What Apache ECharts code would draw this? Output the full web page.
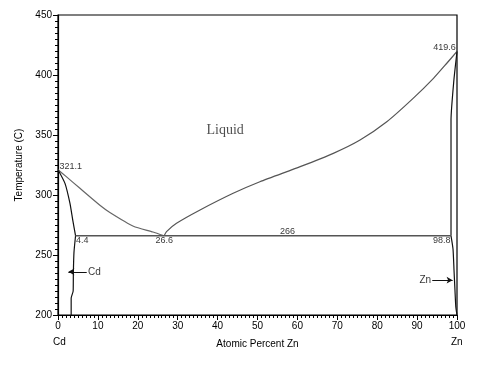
<!DOCTYPE html>
<html><head><meta charset="utf-8">
<script src="https://cdn.jsdelivr.net/npm/echarts@6/dist/echarts.min.js"></script>
<style>html,body{margin:0;padding:0;background:#fff}#c{width:478px;height:367px}</style>
</head><body><div id="c"></div>
<script>
// Liquidus (Cd side): [at% Zn, T]
var liquidusCd = [[0,321.1],[2,315.5],[5.5,305.6],[10.5,291.5],[13,285.5],[18.9,274],[23.8,269.2],[26.6,266]];
// Liquidus (Zn side)
var liquidusZn = [[26.6,266],[27.2,269.5],[29.7,276.4],[35.6,287.5],[43.9,301.4],[50.6,311],[60.7,323.6],[69,334.7],[75.7,345.8],[82.4,361],[89,380.5],[94.1,397.2],[97.5,410],[100,419.6]];
// Solidus + solvus (Cd side)
var solidusCd = [[0,321.1],[1.75,309.7],[3,293],[3.7,279],[4.4,266]];
var solvusCd = [[4.4,266],[4.0,252],[3.85,235],[3.8,220],[3.3,214],[3.3,200]];
// Solidus + solvus (Zn side)
var solidusZn = [[100,419.6],[99.2,395],[98.5,362.5],[98.5,320],[98.5,266]];
var solvusZn = [[98.5,266],[99.0,255],[99.25,237.5],[99.5,220],[99.7,207],[100,200]];
// Eutectic line
var eutectic = [[4.4,266],[98.5,266]];
// Point labels: [x, T, text, align]
var valueLabels = [[0.4,323.5,'321.1','left'],[4.5,262,'4.4','left'],[26.6,262,'26.6','center'],[57.5,269.5,'266','center'],[99.7,422.5,'419.6','right'],[98.4,262,'98.8','right']];
// Phase arrows: [textX, T, tipX, text]
var phaseArrows = [[7.5,236,2.6,'Cd'],[93.5,229,98.9,'Zn']];
var xTicks = [0,10,20,30,40,50,60,70,80,90,100];
var yTicks = [200,250,300,350,400,450];

var chart = echarts.init(document.getElementById('c'));
var font = 'Liberation Sans, DejaVu Sans, sans-serif';
function lineSeries(data, color, w){
  return {type:'line', data:data, showSymbol:false, symbol:'none', smooth:0.2, lineStyle:{color:color,width:w||1.2}, silent:true, z:3};
}
var series = [
  lineSeries(liquidusCd,'#666'),
  lineSeries(liquidusZn,'#555'),
  lineSeries(solidusCd,'#111'),
  lineSeries(solvusCd,'#111'),
  lineSeries(solidusZn,'#111'),
  lineSeries(solvusZn,'#111'),
  {type:'line', data:eutectic, showSymbol:false, symbol:'none', lineStyle:{color:'#555',width:1.5}, z:3},
  {type:'scatter', symbolSize:0, z:5, data:valueLabels.map(function(d){
      return {value:[d[0],d[1]], label:{show:true, position:'inside', formatter:d[2], align:d[3], verticalAlign:'middle', fontSize:9, fontFamily:font, color:'#000'}};
  })},
  {type:'scatter', symbolSize:0, z:5, data:[{value:[41.9,354], label:{show:true, position:'inside', formatter:'Liquid', fontSize:14, fontFamily:'Liberation Serif, DejaVu Serif, serif', color:'#222'}}]}
];
phaseArrows.forEach(function(a){
  var left = a[2] < a[0];
  series.push({type:'line', data:[], markLine:{silent:true, symbol:['none','arrow'], symbolSize:[5,6], lineStyle:{color:'#111', width:1, type:'solid'}, label:{show:false},
    data:[[{coord:[left ? a[0]-0.3 : a[0]+0.3, a[1]]},{coord:[a[2],a[1]]}]]}});
  series.push({type:'scatter', symbolSize:0, z:5, data:[{value:[a[0],a[1]], label:{show:true, position:'inside', formatter:a[3], align:left?'left':'right', verticalAlign:'middle', fontSize:10, fontFamily:font, color:'#000'}}]});
});

chart.setOption({
  animation:false,
  grid:{left:58, right:21, top:15, bottom:52, show:true, borderColor:'#000', borderWidth:1.2},
  xAxis:{type:'value', min:0, max:100, interval:10,
    name:'Atomic Percent Zn', nameLocation:'middle', nameGap:24, nameTextStyle:{fontSize:10, fontFamily:font, color:'#000'},
    axisLine:{onZero:false, lineStyle:{color:'#000', width:1.2}},
    axisTick:{show:true, inside:false, length:5, lineStyle:{color:'#000'}},
    minorTick:{show:true, splitNumber:10, length:3, lineStyle:{color:'#000'}},
    splitLine:{show:false},
    axisLabel:{fontSize:10, fontFamily:font, color:'#000', margin:6, showMaxLabel:true,
      formatter:function(v){return xTicks.indexOf(v)>=0 ? String(v) : '';}}
  },
  yAxis:{type:'value', min:200, max:450, interval:50,
    name:'Temperature (C)', nameLocation:'middle', nameGap:33, nameRotate:90, nameTextStyle:{fontSize:10, fontFamily:font, color:'#000'},
    axisLine:{onZero:false, lineStyle:{color:'#000', width:1.2}},
    axisTick:{show:true, inside:false, length:5, lineStyle:{color:'#000'}},
    minorTick:{show:true, splitNumber:10, length:3, lineStyle:{color:'#000'}},
    splitLine:{show:false},
    axisLabel:{fontSize:10, fontFamily:font, color:'#000', margin:6,
      formatter:function(v){return yTicks.indexOf(v)>=0 ? String(v) : '';}}
  },
  graphic:[
    {type:'text', left:53, top:337, style:{text:'Cd', font:'10px Liberation Sans, sans-serif', fill:'#000'}},
    {type:'text', left:451, top:337, style:{text:'Zn', font:'10px Liberation Sans, sans-serif', fill:'#000'}}
  ],
  series:series
});
</script></body></html>
